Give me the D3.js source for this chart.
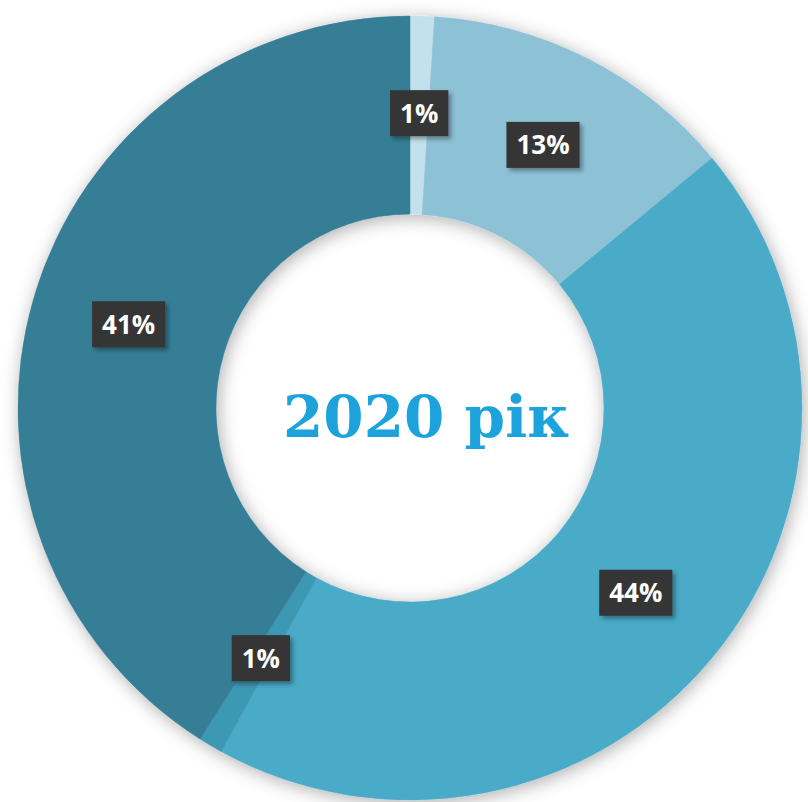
<!DOCTYPE html>
<html>
<head>
<meta charset="utf-8">
<script src="https://cdn.jsdelivr.net/npm/d3@7"></script>
<style>
  html, body { margin: 0; padding: 0; background: #fff; }
</style>
</head>
<body>
<div id="chart"></div>
<script>
// Data (clockwise from 12 o'clock)
const categories = ["a", "b", "c", "d", "e"];
const values = [1, 13, 44, 1, 41];
const labels = ["1%", "13%", "44%", "1%", "41%"];
const colors = ["#c2e1ec", "#8dc1d6", "#49abc7", "#3e98b3", "#357e95"];
const title = "2020 рік";

const width = 808, height = 802;
const cx = 410, cy = 408;
const outerR = 392, innerR = 194;

const svg = d3.select("#chart")
  .append("svg")
  .attr("width", width)
  .attr("height", height);

const defs = svg.append("defs");

// soft shadow round the ring
defs.append("filter")
  .attr("id", "ringShadow")
  .attr("x", "-10%").attr("y", "-10%")
  .attr("width", "120%").attr("height", "120%")
  .append("feDropShadow")
  .attr("dx", 2).attr("dy", 3)
  .attr("stdDeviation", 9)
  .attr("flood-color", "#000")
  .attr("flood-opacity", 0.32);

// hard-ish shadow under the label boxes
defs.append("filter")
  .attr("id", "boxShadow")
  .attr("x", "-20%").attr("y", "-20%")
  .attr("width", "150%").attr("height", "150%")
  .append("feDropShadow")
  .attr("dx", 3).attr("dy", 3)
  .attr("stdDeviation", 2)
  .attr("flood-color", "#000")
  .attr("flood-opacity", 0.35);

const g = svg.append("g")
  .attr("transform", `translate(${cx},${cy})`);

const pie = d3.pie()
  .sort(null)
  .value(d => d.value);

const arc = d3.arc()
  .innerRadius(innerR)
  .outerRadius(outerR);

const data = categories.map((c, i) => ({
  key: c, value: values[i], label: labels[i], color: colors[i]
}));

const arcs = pie(data);

g.append("g")
  .attr("filter", "url(#ringShadow)")
  .selectAll("path")
  .data(arcs)
  .join("path")
    .attr("d", arc)
    .attr("fill", d => d.data.color)
    .attr("stroke", d => d.data.color)
    .attr("stroke-width", 0.5);

// data labels in dark boxes at the slice centroids
const labelG = g.append("g")
  .selectAll("g")
  .data(arcs)
  .join("g")
    .attr("transform", d => {
      const [x, y] = arc.centroid(d);
      return `translate(${x},${y - 2})`;
    });

const boxH = 46;
labelG.each(function(d) {
  const sel = d3.select(this);
  const txt = sel.append("text")
    .attr("text-anchor", "middle")
    .attr("dy", "0.36em")
    .attr("font-family", "'Open Sans', 'DejaVu Sans', sans-serif")
    .attr("font-weight", 700)
    .attr("font-size", 26)
    .attr("fill", "#fff")
    .text(d.data.label);
  const w = txt.node().getComputedTextLength() + 20;
  sel.insert("rect", "text")
    .attr("x", -w / 2)
    .attr("y", -boxH / 2)
    .attr("width", w)
    .attr("height", boxH)
    .attr("fill", "#363636")
    .attr("filter", "url(#boxShadow)");
});

// centre title
g.append("text")
  .attr("x", 16)
  .attr("y", 29)
  .attr("text-anchor", "middle")
  .attr("font-family", "'DejaVu Serif', 'Liberation Serif', serif")
  .attr("font-weight", 700)
  .attr("font-size", 58)
  .attr("fill", "#1ca3dc")
  .text(title);
</script>
</body>
</html>
